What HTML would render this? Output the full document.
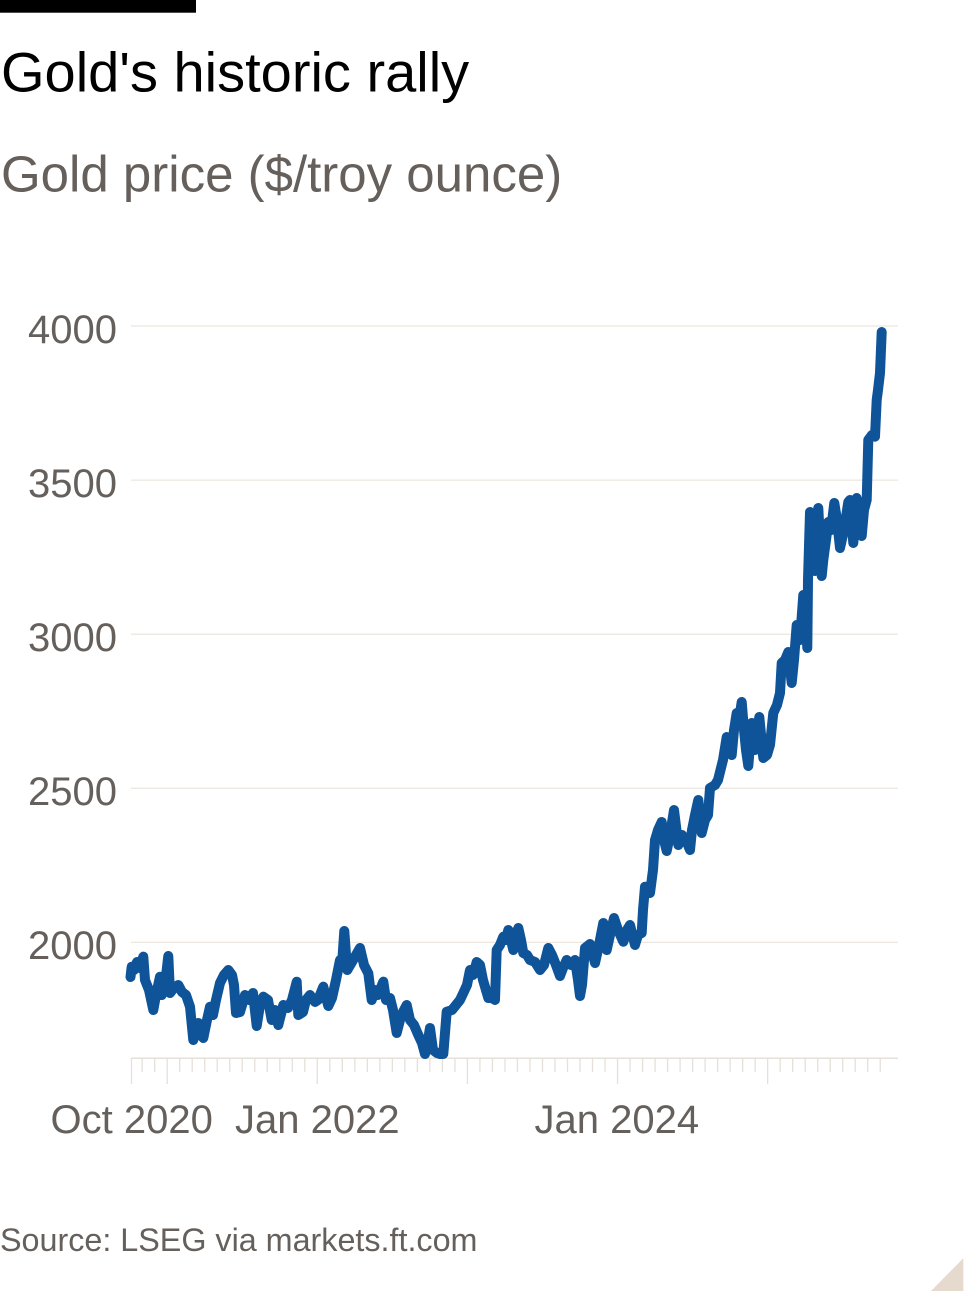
<!DOCTYPE html>
<html>
<head>
<meta charset="utf-8">
<style>
html,body{margin:0;padding:0;background:#fff;}
body{width:980px;height:1307px;overflow:hidden;}
svg{display:block;}
text{font-family:"Liberation Sans",Arial,sans-serif;}
</style>
</head>
<body>
<svg width="980" height="1307" viewBox="0 0 980 1307" xmlns="http://www.w3.org/2000/svg">
  <rect x="0" y="0" width="980" height="1307" fill="#ffffff"/>
  <rect x="0" y="0" width="196" height="12.7" fill="#000"/>
  <text x="1" y="91.7" font-size="56" fill="#000">Gold's historic rally</text>
  <text x="1" y="191.7" font-size="51" fill="#66605c">Gold price ($/troy ounce)</text>

  <g stroke="#ece7e1" stroke-width="1.3">
    <line x1="131" y1="326" x2="898" y2="326"/>
    <line x1="131" y1="480.1" x2="898" y2="480.1"/>
    <line x1="131" y1="634.2" x2="898" y2="634.2"/>
    <line x1="131" y1="788.3" x2="898" y2="788.3"/>
    <line x1="131" y1="942.4" x2="898" y2="942.4"/>
  </g>
  <g font-size="40" fill="#66605c" text-anchor="end">
    <text x="117" y="343">4000</text>
    <text x="117" y="497">3500</text>
    <text x="117" y="651">3000</text>
    <text x="117" y="805">2500</text>
    <text x="117" y="959">2000</text>
  </g>

  <line x1="131" y1="1058.3" x2="898" y2="1058.3" stroke="#e6e0da" stroke-width="1.5"/>
  <path fill="none" stroke="#e6e0da" stroke-width="1.3" d="
M131.5 1058V1084
M142.16 1058V1072 M154.67 1058V1072 M167.18 1058V1084 M179.69 1058V1072 M192.2 1058V1072
M204.71 1058V1072 M217.22 1058V1072 M229.73 1058V1072 M242.24 1058V1072 M254.75 1058V1072
M267.26 1058V1072 M279.77 1058V1072 M292.28 1058V1072 M304.79 1058V1072 M317.3 1058V1084
M329.81 1058V1072 M342.32 1058V1072 M354.83 1058V1072 M367.34 1058V1072 M379.85 1058V1072
M392.36 1058V1072 M404.87 1058V1072 M417.38 1058V1072 M429.89 1058V1072 M442.4 1058V1072
M454.91 1058V1072 M467.42 1058V1084 M479.93 1058V1072 M492.44 1058V1072 M504.95 1058V1072
M517.46 1058V1072 M529.97 1058V1072 M542.48 1058V1072 M554.99 1058V1072 M567.5 1058V1072
M580.01 1058V1072 M592.52 1058V1072 M605.03 1058V1072 M617.54 1058V1084 M630.05 1058V1072
M642.56 1058V1072 M655.07 1058V1072 M667.58 1058V1072 M680.09 1058V1072 M692.6 1058V1072
M705.11 1058V1072 M717.62 1058V1072 M730.13 1058V1072 M742.64 1058V1072 M755.15 1058V1072
M767.66 1058V1084 M780.17 1058V1072 M792.68 1058V1072 M805.19 1058V1072 M817.7 1058V1072
M830.21 1058V1072 M842.72 1058V1072 M855.23 1058V1072 M867.74 1058V1072 M880.25 1058V1072"/>

  <g font-size="40" fill="#66605c" text-anchor="middle">
    <text x="131.7" y="1133">Oct 2020</text>
    <text x="317.3" y="1133">Jan 2022</text>
    <text x="616.8" y="1133">Jan 2024</text>
  </g>

  <polyline fill="none" stroke="#0f5499" stroke-width="10" stroke-linejoin="round" stroke-linecap="round" points="
130.5,977 131.7,966.7 134,970 137,962 140,968 143.3,956.7 145,980 149,990 153.3,1010 156,995 160,976.7 161.7,995 165,985 168.3,956 170,993 174,988 178.3,985 182,992 186,995 190,1006.7 193.3,1040 196,1030 198.3,1023 201,1035 203.3,1038 207,1020 210,1006.7 213,1015 216,1000 220,983 224,975 228.3,970 232,975 234,985 236,1013 240,1012 245,995 249,1000 253,993 256.7,1026 260,1005 263.3,996.7 268,1000 271.7,1020 275,1010 278.3,1025 283.3,1005 288,1008 292,1000 296.7,981.7 298.3,1015 303,1012 306,1000 310,995 315,1002 318,1000 323.3,986.7 328.3,1006 332,998 336,980 340,960 342,965 344.3,931 346,955 347.3,970 352,962 356,955 360,948 364,965 368.3,973.3 371.7,1000 375,990 378,995 383.3,981.7 386,1000 390,998 393,1010 396.7,1033 400,1020 403,1012 406.7,1005 410,1020 414,1025 418.3,1035 422,1043 425,1054 428,1040 430,1028 433,1050 437,1053 440,1054 443.3,1054 446.7,1011.7 452,1010 456,1005 460,1000 463.3,993 467,985 470,970 473,975 476.7,962 480,965 483,980 488.3,998 492,998 495,1000 496.7,950 500,945 503.3,936.7 506,940 508.3,930 511,940 513.3,950 516,935 518.3,928 521,940 523.3,953 527,955 530,960 535,962 540,970 544,965 548.3,948 552,955 556,965 560,976 563,968 566.7,960 571,965 575,960 578,980 580,996 582,985 585,948 590,944 595,963 599,945 603.3,923 606.7,950 610,935 614,918 618,930 623.3,941.7 627,930 630,925 635,945 638,935 641.7,933 643,910 645,886.7 650,893 653,870 655,840 658,830 661.7,822 664,840 666.7,851 670,835 674,810 678.3,845 682,835 686,840 690,850 692,830 695,815 698.3,800 701.7,833 705,820 708,815 710,788 715,785 718,780 723,760 726.7,737 729,745 731.7,755 734,730 736.7,713 739,720 741.7,702 744,730 746,750 748.3,766 751.7,723 755,750 759.3,717 763.3,758 767,755 770,745 773.3,713 777,705 780,693 781.7,663 785,660 788.3,652 791.7,683 794,660 796.7,625 800,640 803.3,595 806,620 807.3,648 808,580 810,512 812,520 815,571 818.3,508 821.7,576 823.3,560 826,540 828.3,522 831,530 834.3,503 837,520 840,548 844,530 848.3,502 850,500 853.3,543 856.7,498 860,520 861.7,536 864,510 866.7,500 867.5,470 868.3,440 872,435 875,436.7 876.7,400 878,390 880,373 881.7,332"/>

  <text x="0" y="1251" font-size="32.3" fill="#66605c">Source: LSEG via markets.ft.com</text>

  <polygon points="931,1291 963.3,1258.3 963.3,1291" fill="#e6d9ce"/>
</svg>
</body>
</html>
